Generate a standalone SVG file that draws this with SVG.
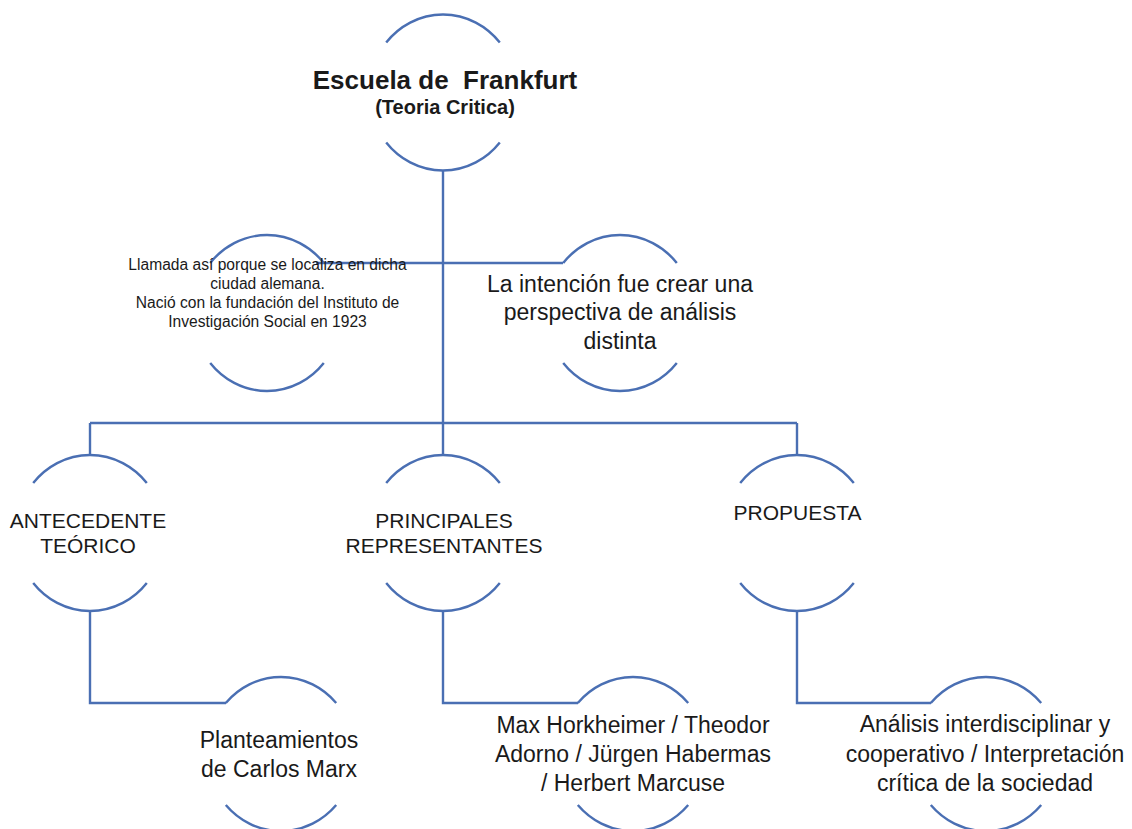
<svg xmlns="http://www.w3.org/2000/svg" width="1132" height="829" viewBox="0 0 1132 829">
<style>
.arc{fill:none;stroke:#4a6fb3;stroke-width:2.4}
.con{fill:none;stroke:#4a6fb3;stroke-width:2.4}
text{font-family:"Liberation Sans",Arial,sans-serif;fill:#1a1a1a;text-anchor:middle}
.big{font-size:23px}
.cap{font-size:21px}
.sm{font-size:15.6px}
.title{font-size:26px;font-weight:bold;white-space:pre}
.sub{font-size:20px;font-weight:bold}
</style>
<rect width="1132" height="829" fill="#ffffff"/>
<g id="connectors">
<path class="con" d="M443,170 V455"/>
<path class="con" d="M443,263 H316"/>
<path class="con" d="M443,263 H563"/>
<path class="con" d="M90,423 H797"/>
<path class="con" d="M90,423 V455"/>
<path class="con" d="M797,423 V455"/>
<path class="con" d="M90,611 V703 H226"/>
<path class="con" d="M443,611 V703 H578"/>
<path class="con" d="M797,611 V703 H931"/>
</g>
<g id="node-escuela">
<path class="arc" d="M386.2,42.5 A74 78 0 0 1 499.8,42.5"/>
<path class="arc" d="M386.2,142.5 A74 78 0 0 0 499.8,142.5"/>
<text class="title" x="445" y="89" xml:space="preserve">Escuela de  Frankfurt</text>
<text class="sub" x="445" y="114">(Teoria Critica)</text>
</g>
<g id="node-llamada">
<path class="arc" d="M210.2,263 A74 78 0 0 1 323.8,263"/>
<path class="arc" d="M210.2,363 A74 78 0 0 0 323.8,363"/>
<text class="sm" x="267.5" y="270">Llamada así porque se localiza en dicha</text>
<text class="sm" x="267.5" y="289">ciudad alemana.</text>
<text class="sm" x="267.5" y="308">Nació con la fundación del Instituto de</text>
<text class="sm" x="267.5" y="327">Investigación Social en 1923</text>
</g>
<g id="node-intencion">
<path class="arc" d="M563.2,263 A74 78 0 0 1 676.8,263"/>
<path class="arc" d="M563.2,363 A74 78 0 0 0 676.8,363"/>
<text class="big" x="620" y="292">La intención fue crear una</text>
<text class="big" x="620" y="320">perspectiva de análisis</text>
<text class="big" x="620" y="349">distinta</text>
</g>
<g id="node-antecedente">
<path class="arc" d="M33.2,483 A74 78 0 0 1 146.8,483"/>
<path class="arc" d="M33.2,583 A74 78 0 0 0 146.8,583"/>
<text class="cap" x="88" y="528">ANTECEDENTE</text>
<text class="cap" x="88" y="553">TEÓRICO</text>
</g>
<g id="node-principales">
<path class="arc" d="M386.2,483 A74 78 0 0 1 499.8,483"/>
<path class="arc" d="M386.2,583 A74 78 0 0 0 499.8,583"/>
<text class="cap" x="444" y="528">PRINCIPALES</text>
<text class="cap" x="444" y="553">REPRESENTANTES</text>
</g>
<g id="node-propuesta">
<path class="arc" d="M740.2,483 A74 78 0 0 1 853.8,483"/>
<path class="arc" d="M740.2,583 A74 78 0 0 0 853.8,583"/>
<text class="cap" x="797.5" y="520">PROPUESTA</text>
</g>
<g id="node-marx">
<path class="arc" d="M225.8,703 A74 78 0 0 1 336.2,703"/>
<path class="arc" d="M225.8,805 A74 78 0 0 0 336.2,805"/>
<text class="big" x="279" y="748">Planteamientos</text>
<text class="big" x="279" y="777">de Carlos Marx</text>
</g>
<g id="node-representantes">
<path class="arc" d="M577.8,703 A74 78 0 0 1 688.2,703"/>
<path class="arc" d="M577.8,805 A74 78 0 0 0 688.2,805"/>
<text class="big" x="633" y="733">Max Horkheimer / Theodor</text>
<text class="big" x="633" y="762">Adorno / Jürgen Habermas</text>
<text class="big" x="633" y="791">/ Herbert Marcuse</text>
</g>
<g id="node-analisis">
<path class="arc" d="M930.8,703 A74 78 0 0 1 1041.2,703"/>
<path class="arc" d="M930.8,805 A74 78 0 0 0 1041.2,805"/>
<text class="big" x="985" y="732">Análisis interdisciplinar y</text>
<text class="big" x="985" y="762">cooperativo / Interpretación</text>
<text class="big" x="985" y="791">crítica de la sociedad</text>
</g>
</svg>
